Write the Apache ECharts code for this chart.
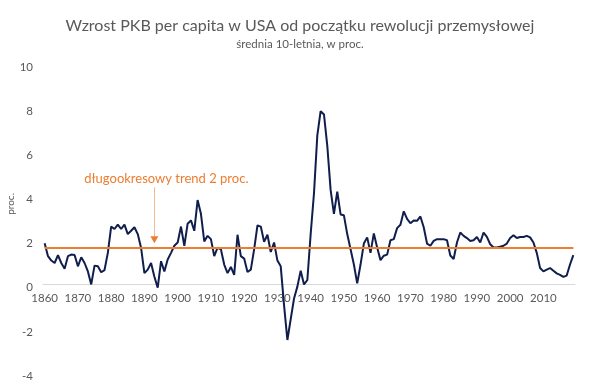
<!DOCTYPE html>
<html><head><meta charset="utf-8">
<script src="https://cdn.jsdelivr.net/npm/echarts@6/dist/echarts.min.js"></script>
<style>html,body{margin:0;padding:0;background:#fff}#c{width:600px;height:391px}</style>
</head><body><div id="c"></div>
<script>
const years = [];
for (let y = 1860; y <= 2019; y++) years.push(String(y));

const growth = [
 2.02,1.43,1.23,1.12,1.48,1.12,0.86,1.43,1.50,1.48,
 0.97,1.38,1.12,0.74,0.15,1.00,0.97,0.70,0.80,1.58,
 2.77,2.66,2.86,2.66,2.86,2.43,2.58,2.74,2.43,1.80,
 0.66,0.82,1.12,0.50,0.00,1.20,0.74,1.28,1.58,1.90,
 2.05,2.77,1.90,2.90,3.05,2.58,3.97,3.35,2.10,2.35,
 2.20,1.43,1.82,1.74,1.05,0.66,0.94,0.58,2.40,1.43,
 1.32,0.71,0.82,1.74,2.82,2.77,2.08,2.40,1.62,2.05,
 1.23,0.97,-0.80,-2.37,-1.42,-0.49,0.05,0.77,0.15,0.35,
 2.43,4.28,6.90,8.00,7.85,6.43,4.43,3.35,4.35,3.32,
 3.28,2.43,1.74,1.05,0.20,1.05,2.00,2.28,1.58,2.46,
 1.82,1.25,1.45,1.50,2.15,2.20,2.70,2.85,3.46,3.12,
 2.92,3.05,3.03,3.23,2.74,2.00,1.90,2.12,2.20,2.20,
 2.20,2.15,1.46,1.30,2.05,2.50,2.35,2.25,2.12,2.15,
 2.30,2.05,2.50,2.30,1.97,1.82,1.82,1.86,1.90,2.00,
 2.25,2.38,2.25,2.30,2.30,2.35,2.28,2.05,1.58,0.89,
 0.74,0.82,0.89,0.77,0.65,0.58,0.49,0.55,1.05,1.48
];

const TREND = 1.8;
const ANNOT_YEAR = '1893';
const ANNOT_TEXT = 'długookresowy trend 2 proc.';
const ANNOT_TEXT_Y = 4.93;
const ARROW_TOP = 4.55;
const ARROW_TIP = 2.0;

const TITLE = 'Wzrost PKB per capita w USA od początku rewolucji przemysłowej';
const SUBTITLE = 'średnia 10-letnia, w proc.';
const Y_NAME = 'proc.';

const FONT = 'Lato, "Open Sans", sans-serif';
const GREY = '#595959';
const ORANGE = '#ED7D31';
const NAVY = '#0F1E4D';

const GRID_TOP = 67, GRID_H = 309;

const chart = echarts.init(document.getElementById('c'), null, {renderer: 'canvas'});
const option = {
  animation: false,
  backgroundColor: '#fff',
  title: {
    text: TITLE, subtext: SUBTITLE, left: 'center', top: 13, itemGap: 4,
    textStyle: {fontFamily: FONT, fontSize: 16, fontWeight: 'normal', color: GREY},
    subtextStyle: {fontFamily: FONT, fontSize: 11.5, color: GREY}
  },
  graphic: [{
    type: 'text', left: 6, top: 193, rotation: Math.PI / 2,
    style: {text: Y_NAME, font: '10px ' + FONT, fill: GREY}
  }],
  grid: {left: 43, right: 25, top: GRID_TOP, height: GRID_H, containLabel: false},
  xAxis: {
    type: 'category', data: years, boundaryGap: true,
    axisLine: {onZero: false, lineStyle: {color: '#D9D9D9', width: 1}},
    axisTick: {show: false},
    axisLabel: {interval: 9, color: GREY, fontFamily: FONT, fontSize: 11.5, margin: 8},
    splitLine: {show: false}
  },
  yAxis: {
    type: 'value', min: -4, max: 10, interval: 2,
    axisLine: {show: false}, axisTick: {show: false},
    splitLine: {show: false},
    axisLabel: {color: GREY, fontFamily: FONT, fontSize: 11.5, margin: 10}
  },
  series: [{
    type: 'line', data: growth, symbol: 'none', smooth: false,
    lineStyle: {color: NAVY, width: 2}, z: 3,
    markLine: {
      silent: true, symbol: 'none', animation: false,
      label: {show: false},
      data: [
        [{coord: [years[0], TREND], lineStyle: {color: ORANGE, width: 2, type: 'solid'}},
         {coord: [years[years.length - 1], TREND]}],
        [{coord: [ANNOT_YEAR, ARROW_TOP], lineStyle: {color: '#F6B891', width: 1, type: 'solid'}},
         {coord: [ANNOT_YEAR, ARROW_TIP + 0.3]}]
      ]
    },
    markPoint: {
      silent: true, animation: false,
      data: [
        {coord: [ANNOT_YEAR, ARROW_TIP + 0.17], symbol: 'triangle', symbolRotate: 180,
         symbolSize: [8, 7], itemStyle: {color: ORANGE}, label: {show: false}},
        {coord: [ANNOT_YEAR, ANNOT_TEXT_Y], symbol: 'rect', symbolSize: 0,
         label: {show: true, position: 'inside', offset: [12, 0], formatter: ANNOT_TEXT,
                 color: ORANGE, fontFamily: FONT, fontSize: 13}}
      ]
    }
  }]
};
chart.setOption(option);
// move the category axis (line + labels) up to the y = 0 level, using the library's scale
const yZero = chart.convertToPixel({yAxisIndex: 0}, 0);
const gridBottom = GRID_TOP + GRID_H;
chart.setOption({xAxis: {offset: -(gridBottom - yZero)}});
</script></body></html>
